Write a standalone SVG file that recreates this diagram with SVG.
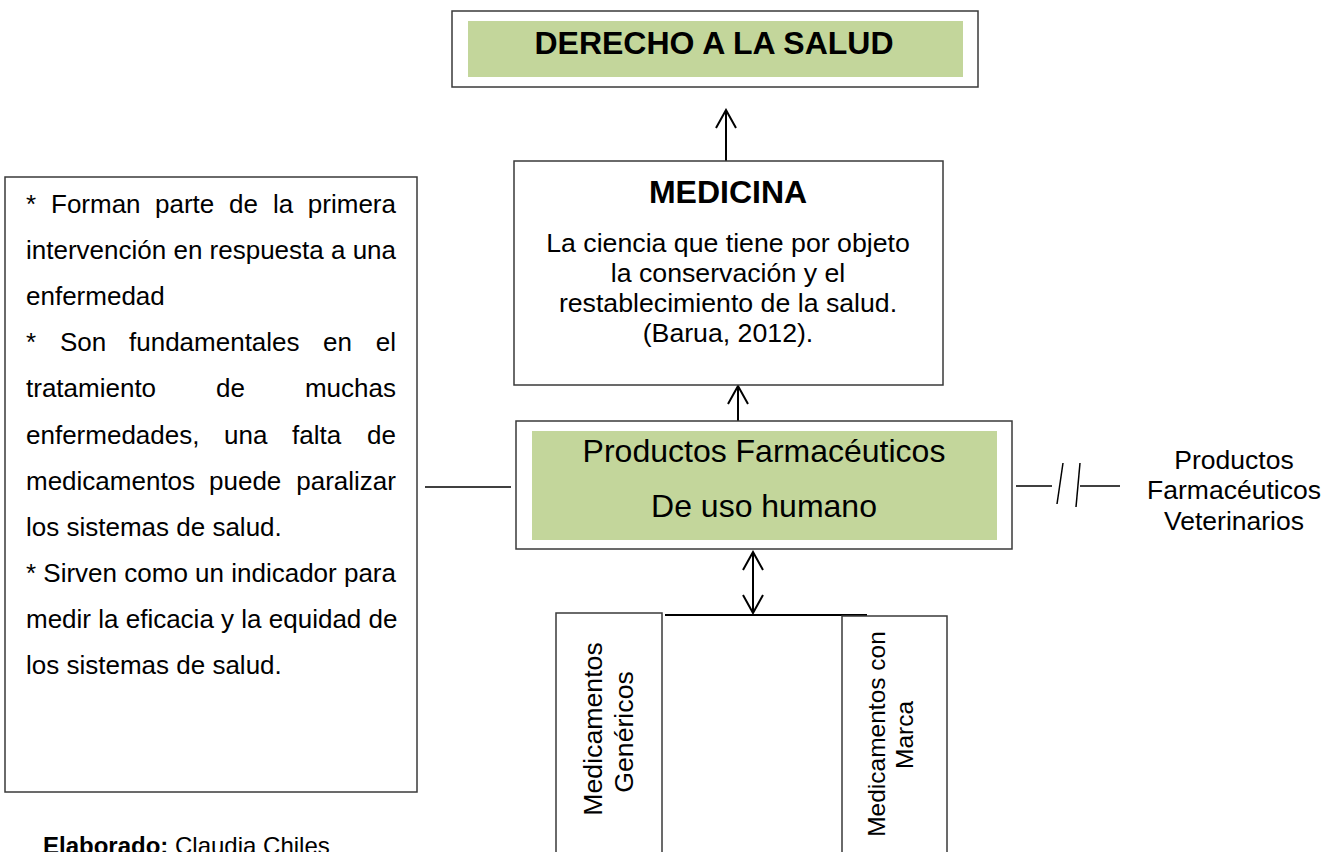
<svg xmlns="http://www.w3.org/2000/svg" width="1325" height="852" viewBox="0 0 1325 852">
<style>
  .box { fill: #ffffff; stroke: #3a3a3a; stroke-width: 1.5; }
  .green { fill: #C3D69B; stroke: none; }
  .t { font-family: "Liberation Sans", Arial, sans-serif; fill: #000; }
  .b { font-weight: bold; }
  .c { text-anchor: middle; }
  .e { text-anchor: end; }
  .l { font-size: 26px; }
  .conn { stroke: #000; stroke-width: 2; fill: none; }
  .thin { stroke-width: 1.5; }
</style>
<defs>
  <marker id="arrow" viewBox="-20 -12 22 24" refX="0" refY="0" markerWidth="22" markerHeight="24" markerUnits="userSpaceOnUse" orient="auto-start-reverse">
    <path d="M-18,-10 L0,0 L-18,10" fill="none" stroke="#000" stroke-width="2"/>
  </marker>
</defs>
<rect width="1325" height="852" fill="#ffffff"/>

<g id="connectors">
  <line class="conn" x1="726" y1="161" x2="726" y2="110" marker-end="url(#arrow)"/>
  <line class="conn" x1="738" y1="421" x2="738" y2="386" marker-end="url(#arrow)"/>
  <line class="conn" x1="753" y1="552" x2="753" y2="613" marker-start="url(#arrow)" marker-end="url(#arrow)"/>
  <line class="conn" x1="665" y1="615" x2="867" y2="615"/>
  <line class="conn thin" x1="425" y1="487" x2="511" y2="487"/>
  <line class="conn thin" x1="1016" y1="486" x2="1052" y2="486"/>
  <line class="conn thin" x1="1057" y1="504" x2="1063" y2="463"/>
  <line class="conn thin" x1="1076" y1="507" x2="1080" y2="463"/>
  <line class="conn thin" x1="1080" y1="486" x2="1120" y2="486"/>
</g>

<g id="derecho">
  <rect class="box" x="452" y="11" width="526" height="76" stroke-width="2"/>
  <rect class="green" x="468" y="21" width="495" height="56"/>
  <text class="t b c" x="714" y="54" font-size="32">DERECHO A LA SALUD</text>
</g>

<g id="medicina">
  <rect class="box" x="514" y="161" width="429" height="224"/>
  <text class="t b c" x="728" y="203" font-size="32">MEDICINA</text>
  <text class="t c" font-size="26.7" x="728" y="252">La ciencia que tiene por objeto</text>
  <text class="t c" font-size="26.7" x="728" y="282">la conservación y el</text>
  <text class="t c" font-size="26.7" x="728" y="312">restablecimiento de la salud.</text>
  <text class="t c" font-size="26.7" x="728" y="342">(Barua, 2012).</text>
</g>

<g id="productos">
  <rect class="box" x="516" y="421" width="496" height="128"/>
  <rect class="green" x="532" y="431" width="465" height="109"/>
  <text class="t c" font-size="32" x="764" y="462">Productos Farmacéuticos</text>
  <text class="t c" font-size="32" x="764" y="517">De uso humano</text>
</g>

<g id="veterinarios">
  <text class="t c" font-size="26.5" x="1234" y="469">Productos</text>
  <text class="t c" font-size="26.5" x="1234" y="499">Farmacéuticos</text>
  <text class="t c" font-size="26.5" x="1234" y="530">Veterinarios</text>
</g>

<g id="genericos">
  <rect class="box" x="556" y="613" width="106" height="260"/>
  <text class="t c" font-size="26.7" transform="translate(602,729) rotate(-90)">Medicamentos</text>
  <text class="t c" font-size="26.7" transform="translate(633,732) rotate(-90)">Genéricos</text>
</g>

<g id="marca">
  <rect class="box" x="842" y="616" width="105" height="260"/>
  <text class="t c" font-size="24.5" transform="translate(885,734) rotate(-90)">Medicamentos con</text>
  <text class="t c" font-size="24.5" transform="translate(913,735) rotate(-90)">Marca</text>
</g>

<g id="caracteristicas">
  <rect class="box" x="5" y="177" width="412" height="615"/>
  <text class="t l" x="26" y="213">*</text>
  <text class="t l" x="51" y="213">Forman</text>
  <text class="t l" x="155" y="213">parte</text>
  <text class="t l" x="229" y="213">de</text>
  <text class="t l" x="273" y="213">la</text>
  <text class="t l e" x="396" y="213">primera</text>
  <text class="t l" x="26" y="259">intervención en respuesta a una</text>
  <text class="t l" x="26" y="305">enfermedad</text>
  <text class="t l" x="26" y="351">*</text>
  <text class="t l" x="60" y="351">Son</text>
  <text class="t l" x="129" y="351">fundamentales</text>
  <text class="t l" x="323" y="351">en</text>
  <text class="t l e" x="396" y="351">el</text>
  <text class="t l" x="26" y="397">tratamiento</text>
  <text class="t l" x="216" y="397">de</text>
  <text class="t l e" x="396" y="397">muchas</text>
  <text class="t l" x="26" y="444">enfermedades,</text>
  <text class="t l" x="224" y="444">una</text>
  <text class="t l" x="292" y="444">falta</text>
  <text class="t l e" x="396" y="444">de</text>
  <text class="t l" x="26" y="490">medicamentos</text>
  <text class="t l" x="209" y="490">puede</text>
  <text class="t l e" x="396" y="490">paralizar</text>
  <text class="t l" x="26" y="536">los sistemas de salud.</text>
  <text class="t l" x="26" y="582">* Sirven como un indicador para</text>
  <text class="t l" x="26" y="628">medir la eficacia y la equidad de</text>
  <text class="t l" x="26" y="674">los sistemas de salud.</text>
</g>

<g id="elaborado">
  <text class="t" font-size="24" x="43" y="854"><tspan class="b">Elaborado:</tspan> Claudia Chiles</text>
</g>
</svg>
